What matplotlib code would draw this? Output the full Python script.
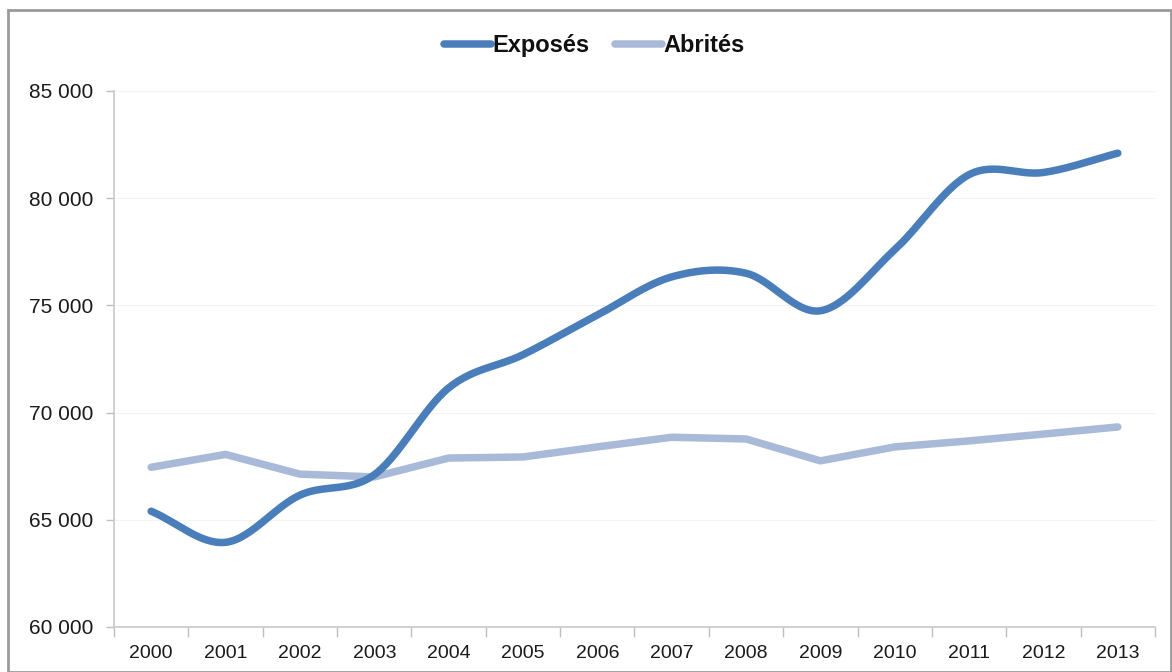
import numpy as np
import matplotlib
matplotlib.use("Agg")
import matplotlib.pyplot as plt
from matplotlib.patches import Rectangle
from matplotlib.ticker import FuncFormatter, FixedLocator

years = ["2000", "2001", "2002", "2003", "2004", "2005", "2006",
         "2007", "2008", "2009", "2010", "2011", "2012", "2013"]
exposes = [65400, 63950, 66150, 67100, 71150, 72700, 74550,
           76330, 76500, 74750, 77600, 81100, 81200, 82100]
abrites = [67450, 68050, 67130, 67000, 67880, 67930, 68400,
           68850, 68770, 67750, 68400, 68680, 69000, 69330]

plt.rcParams['font.family'] = ['Liberation Sans', 'DejaVu Sans']

def catmull_rom(x, y, n=30):
    x = np.asarray(x, float); y = np.asarray(y, float)
    px = np.concatenate([[2 * x[0] - x[1]], x, [2 * x[-1] - x[-2]]])
    py = np.concatenate([[2 * y[0] - y[1]], y, [2 * y[-1] - y[-2]]])
    xs, ys = [], []
    t = np.linspace(0, 1, n, endpoint=False)
    for i in range(1, len(px) - 2):
        for arr, out in ((px, xs), (py, ys)):
            p0, p1, p2, p3 = arr[i - 1], arr[i], arr[i + 1], arr[i + 2]
            out.extend(0.5 * ((2 * p1) + (-p0 + p2) * t
                              + (2 * p0 - 5 * p1 + 4 * p2 - p3) * t ** 2
                              + (-p0 + 3 * p1 - 3 * p2 + p3) * t ** 3))
    xs.append(x[-1]); ys.append(y[-1])
    return np.array(xs), np.array(ys)

fig = plt.figure(figsize=(11.72, 6.72), dpi=100)
ax = fig.add_axes([114 / 1172, 1 - 627 / 672, (1155 - 114) / 1172, (627 - 91) / 672])

pos = np.arange(len(years))
sx, sy = catmull_rom(pos, exposes)
c_exp = '#4a7ebb'
c_abr = '#a9bad8'
ax.plot(pos, abrites, color=c_abr, lw=5.4, solid_capstyle='round',
        solid_joinstyle='round', label='Abrités', zorder=2)
ax.plot(sx, sy, color=c_exp, lw=5.4, solid_capstyle='round',
        solid_joinstyle='round', label='Exposés', zorder=3)

ax.set_xlim(-0.5, len(years) - 0.5)
ax.set_ylim(60000, 85000)
ax.set_yticks(np.arange(60000, 85001, 5000))
ax.yaxis.set_major_formatter(FuncFormatter(lambda v, p: f"{int(v):,}".replace(",", " ")))
ax.set_xticks(pos)
ax.set_xticklabels(years)
ax.xaxis.set_minor_locator(FixedLocator(np.arange(-0.5, len(years), 1.0)))
ax.tick_params(axis='x', which='major', length=0, pad=13, labelsize=14, colors='#1a1a1a')
ax.tick_params(axis='x', which='minor', length=7, width=1, color='#bfbfbf')
ax.tick_params(axis='y', which='major', length=6, width=1, color='#bfbfbf',
               pad=9, labelsize=15, labelcolor='#1a1a1a')
ax.grid(axis='y', color='#f3f3f3', lw=0.8)
ax.set_axisbelow(True)
for s in ('top', 'right'):
    ax.spines[s].set_visible(False)
for s in ('left', 'bottom'):
    ax.spines[s].set_color('#c8c8c8')
    ax.spines[s].set_linewidth(1.2)

handles, labels = ax.get_legend_handles_labels()
leg = fig.legend(handles[::-1], labels[::-1], loc='center', bbox_to_anchor=(0.507, 0.932),
                 ncol=2, frameon=False, handlelength=2.0, handletextpad=0.08,
                 columnspacing=1.05, prop={'weight': 'bold', 'size': 17})
for t in leg.get_texts():
    t.set_color('#111111')

fig.patches.append(Rectangle((8 / 1172, 0), 1 - 9 / 1172, 1 - 10 / 672,
                             transform=fig.transFigure, fill=False,
                             edgecolor='#9a9a9a', lw=2))

fig.savefig('out.png', dpi=100)
